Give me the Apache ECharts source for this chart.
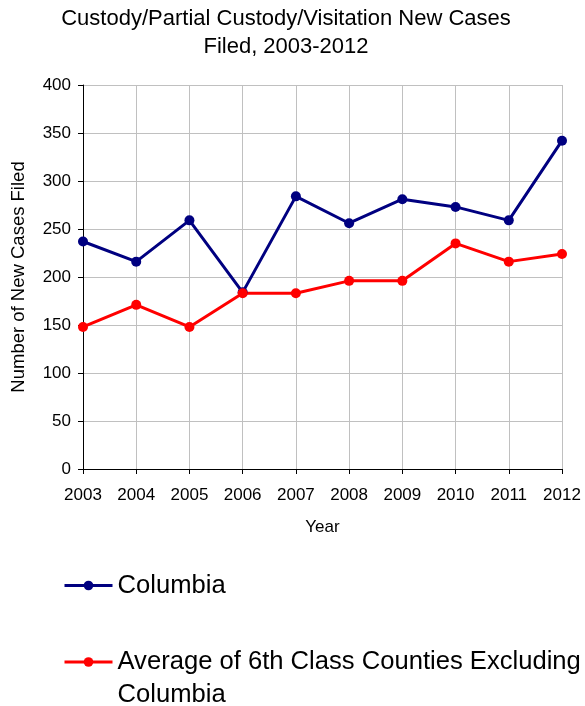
<!DOCTYPE html>
<html>
<head>
<meta charset="utf-8">
<script src="https://cdn.jsdelivr.net/npm/echarts@6/dist/echarts.min.js"></script>
<style>html,body{margin:0;padding:0;background:#fff;}#c{width:585px;height:706px;}</style>
</head>
<body>
<div id="c"></div>
<script>
var years = ['2003','2004','2005','2006','2007','2008','2009','2010','2011','2012'];
var columbia = [237, 216, 259, 184, 284, 256, 281, 273, 259, 342];
var average6th = [148, 171, 148, 183, 183, 196, 196, 235, 216, 224];
var seriesNames = ['Columbia', 'Average of 6th Class Counties Excluding Columbia'];
var titleText = 'Custody/Partial Custody/Visitation New Cases\nFiled, 2003-2012';
var xName = 'Year';
var yName = 'Number of New Cases Filed';

var FONT = '"Liberation Sans", Arial, sans-serif';
var chart = echarts.init(document.getElementById('c'), null, {renderer: 'canvas'});
chart.setOption({
  backgroundColor: '#ffffff',
  animation: false,
  title: {
    text: titleText,
    left: 286, top: 5, textAlign: 'center', padding: 0,
    textStyle: {fontFamily: FONT, fontSize: 22, fontWeight: 'normal', color: '#000', lineHeight: 28}
  },
  legend: [{
    data: [seriesNames[0]],
    orient: 'vertical', left: 63, top: 569, padding: 0,
    itemWidth: 48, itemHeight: 12,
    lineStyle: {width: 3},
    textStyle: {fontFamily: FONT, fontSize: 25.6, color: '#000', lineHeight: 33}
  }, {
    data: [seriesNames[1]],
    orient: 'vertical', left: 63, top: 612.5, padding: 0,
    itemWidth: 48, itemHeight: 12,
    lineStyle: {width: 3},
    formatter: function (n) { return '\n' + n.replace(' Columbia', '\nColumbia'); },
    textStyle: {fontFamily: FONT, fontSize: 25.6, color: '#000', lineHeight: 33}
  }],
  grid: {left: 83, right: 23, top: 85, bottom: 237, containLabel: false},
  xAxis: {
    type: 'category', data: years, boundaryGap: false,
    name: xName, nameLocation: 'middle', nameGap: 50,
    nameTextStyle: {fontFamily: FONT, fontSize: 17, color: '#000'},
    axisLine: {lineStyle: {color: '#000', width: 1}},
    axisTick: {show: true, length: 5, lineStyle: {color: '#000'}},
    axisLabel: {fontFamily: FONT, fontSize: 17, color: '#000', margin: 17.5, interval: 0},
    splitLine: {show: true, lineStyle: {color: '#c0c0c0', width: 1}}
  },
  yAxis: {
    type: 'value', min: 0, max: 400, interval: 50,
    name: yName, nameLocation: 'middle', nameGap: 55, nameRotate: 90,
    nameTextStyle: {fontFamily: FONT, fontSize: 18.5, color: '#000'},
    axisLine: {show: true, lineStyle: {color: '#000', width: 1}},
    axisTick: {show: true, length: 5, lineStyle: {color: '#000'}},
    axisLabel: {fontFamily: FONT, fontSize: 17, color: '#000', margin: 12},
    splitLine: {show: true, lineStyle: {color: '#c0c0c0', width: 1}}
  },
  series: [{
    name: seriesNames[0], type: 'line', data: columbia,
    symbol: 'circle', symbolSize: 10,
    lineStyle: {color: '#000080', width: 3},
    itemStyle: {color: '#000080'}
  }, {
    name: seriesNames[1], type: 'line', data: average6th,
    symbol: 'circle', symbolSize: 10,
    lineStyle: {color: '#ff0000', width: 3},
    itemStyle: {color: '#ff0000'}
  }]
});
</script>
</body>
</html>
